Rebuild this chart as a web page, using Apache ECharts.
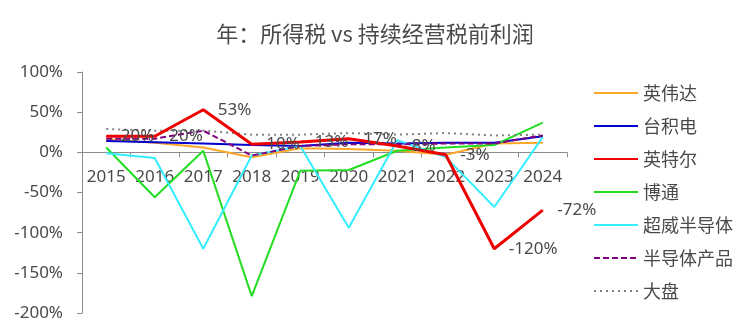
<!DOCTYPE html>
<html><head><meta charset="utf-8">
<script src="https://cdn.jsdelivr.net/npm/echarts@6/dist/echarts.min.js"></script>
<style>html,body{margin:0;padding:0;background:#fff}#c{width:750px;height:333px}</style>
</head><body><div id="c"></div>
<script>
var years = ['2015','2016','2017','2018','2019','2020','2021','2022','2023','2024'];
var nvidia = [16, 12, 6, -6, 5, 4, 2, -3, 11, 12];
var tsmc = [14, 12.5, 11, 9, 8, 12, 11, 12, 12, 20];
var intel = [20, 20, 53, 10, 13, 17, 8, -3, -120, -72];
var broadcom = [6, -56, 2, -179, -23, -22, 2, 6, 9, 37];
var amd = [-1, -7, -120, -4, 8, -94, 15, -6, -68, 19];
var semis = [17, 17, 27, -4, 8, 10, 10, 11, 11, 21];
var market = [29, 27, 27, 22, 22, 24, 22, 24, 21, 22];
var yTicks = {min: -200, max: 100, interval: 50};

var FONT = '"Noto Sans", "Noto Sans CJK SC", sans-serif';
var CJK = '"Noto Sans CJK SC", "Noto Sans", sans-serif';
var TXT = '#4a4a4a';
var GRID_TOP = 72, GRID_BOTTOM = 20, H = 333;
var plotH = H - GRID_TOP - GRID_BOTTOM;
var zeroFromBottom = plotH * (0 - yTicks.min) / (yTicks.max - yTicks.min);

function s(name, data, color, width, type, extra) {
  var o = {name: name, type: 'line', data: data, symbol: 'none', smooth: false,
    lineStyle: {color: color, width: width, type: type || 'solid'}, itemStyle: {color: color}, z: 2};
  if (extra) for (var k in extra) o[k] = extra[k];
  return o;
}
var chart = echarts.init(document.getElementById('c'), null, {renderer: 'canvas'});
chart.setOption({
  animation: false,
  textStyle: {fontFamily: FONT},
  title: {text: '年：所得税 vs 持续经营税前利润', left: 'center', top: 18,
    textStyle: {fontFamily: CJK, fontSize: 22, fontWeight: 'normal', color: TXT}},
  grid: {left: 82, right: 183, top: GRID_TOP, bottom: GRID_BOTTOM, containLabel: false},
  legend: {orient: 'vertical', left: 593, top: 84, padding: 0, itemWidth: 44, itemHeight: 14, itemGap: 15,
    itemStyle: {opacity: 0},
    textStyle: {fontFamily: CJK, fontSize: 18, lineHeight: 18, color: TXT},
    data: ['英伟达','台积电','英特尔','博通','超威半导体','半导体产品','大盘']},
  xAxis: {type: 'category', data: years, boundaryGap: true, offset: -zeroFromBottom,
    axisLine: {onZero: false, lineStyle: {color: '#8c8c8c', width: 1}},
    axisTick: {show: true, alignWithLabel: false, length: 5, lineStyle: {color: '#8c8c8c'}},
    axisLabel: {fontFamily: FONT, fontSize: 17, color: TXT, margin: 16, interval: 0}},
  yAxis: {type: 'value', min: yTicks.min, max: yTicks.max, interval: yTicks.interval,
    axisLine: {show: true, lineStyle: {color: '#8c8c8c'}},
    axisTick: {show: true, length: 5, lineStyle: {color: '#8c8c8c'}},
    splitLine: {show: false},
    axisLabel: {fontFamily: FONT, fontSize: 17, color: TXT, margin: 19, formatter: '{value}%'}},
  series: [
    s('英伟达', nvidia, '#FFA72A', 2),
    s('台积电', tsmc, '#0000D0', 2),
    s('英特尔', intel, '#EE0000', 3, 'solid', {z: 5, symbol: 'circle', symbolSize: 1, showSymbol: true,
      label: {show: true, position: 'right', distance: 14,
      fontFamily: FONT, fontSize: 17, color: TXT, formatter: '{c}%'}}),
    s('博通', broadcom, '#22DD22', 2),
    s('超威半导体', amd, '#33EEFF', 2),
    s('半导体产品', semis, '#800080', 2, [6, 3]),
    s('大盘', market, '#808080', 2, [2, 4])
  ]
});
</script></body></html>
